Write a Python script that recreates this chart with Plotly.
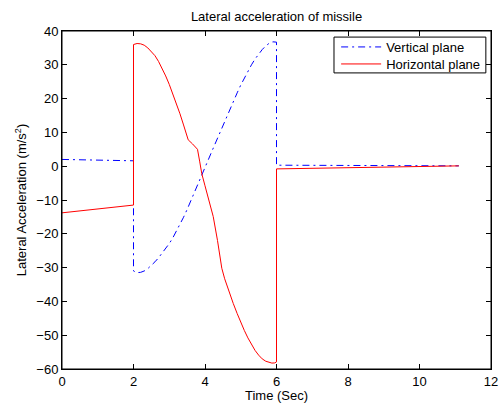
import plotly.graph_objects as go

# Horizontal plane (red, solid)
red_t = [0, 2.0, 2.0, 2.1, 2.2, 2.3, 2.4, 2.5, 2.6, 2.7, 2.8, 2.9, 3.0, 3.1, 3.2, 3.3, 3.4, 3.5, 3.53,
         3.65, 3.79, 3.85, 3.91, 4.0, 4.1, 4.23, 4.35, 4.47, 4.55, 4.65, 4.79, 4.9, 5.0, 5.1, 5.2,
         5.3, 5.4, 5.5, 5.6, 5.7, 5.8, 5.87, 5.95, 6.0, 6.0, 11.1]
red_v = [-13.8, -11.5, 36.0, 36.3, 36.2, 35.8, 35.0, 34.0, 32.7, 31.0, 29.0, 26.7, 24.2, 21.5, 18.6,
         15.5, 12.2, 8.8, 7.8, 6.6, 5.0, 1.5, -2.2, -5.8, -9.8, -14.9, -22.0, -30.2, -33.3, -36.5,
         -40.6, -43.6, -46.2, -48.6, -50.8, -52.8, -54.5, -55.9, -57.0, -57.7, -58.1, -58.25, -58.2,
         -57.9, -0.8, 0.1]

# Vertical plane (blue, dash-dot)
blue_t = [0, 2.0, 2.0, 2.1, 2.2, 2.3, 2.4, 2.5, 2.6, 2.7, 2.8, 2.9, 3.0, 3.1, 3.2, 3.3, 3.4, 3.5,
          3.6, 3.7, 3.8, 3.9, 4.0, 4.1, 4.2, 4.3, 4.4, 4.5, 4.6, 4.7, 4.8, 4.9, 5.0, 5.1, 5.2, 5.3,
          5.4, 5.5, 5.6, 5.7, 5.8, 5.9, 6.0, 6.0, 11.1]
blue_v = [2.0, 1.6, -31.0, -31.5, -31.4, -31.0, -30.3, -29.4, -28.3, -27.1, -25.8, -24.4, -22.9,
          -21.2, -19.3, -17.3, -15.1, -12.8, -10.4, -8.0, -5.5, -2.9, -0.4, 2.1, 4.6, 7.1, 9.6,
          12.0, 14.4, 16.9, 19.3, 21.7, 24.0, 26.1, 28.1, 30.0, 31.7, 33.2, 34.5, 35.6, 36.4, 36.8,
          36.7, 0.3, 0.1]

x_ticks = [0, 2, 4, 6, 8, 10, 12]
y_ticks = [40, 30, 20, 10, 0, -10, -20, -30, -40, -50, -60]

fig = go.Figure()
fig.add_trace(go.Scatter(x=blue_t, y=blue_v, mode="lines", name="Vertical plane", legend="legend",
                         line=dict(color="#0000ff", width=1, dash="7px,4px,2px,4px")))
fig.add_trace(go.Scatter(x=red_t, y=red_v, mode="lines", name="Horizontal plane", legend="legend2",
                         line=dict(color="#ff0000", width=1)))

font_family = "Liberation Sans, Arial, Helvetica, sans-serif"
FS = 13
axis_common = dict(showgrid=False, zeroline=False, showline=True, linecolor="black", linewidth=1,
                   mirror="allticks", ticks="inside", ticklen=5, tickcolor="black", automargin=False,
                   tickfont=dict(size=FS, color="black", family=font_family))
legend_common = dict(x=0.639, xanchor="left", yanchor="middle", bgcolor="rgba(0,0,0,0)",
                     borderwidth=0, font=dict(size=FS, color="black", family=font_family),
                     itemwidth=40)

fig.update_layout(
    width=502, height=403,
    margin=dict(l=62, r=11, t=31, b=34),
    paper_bgcolor="white", plot_bgcolor="white",
    title=dict(text="Lateral acceleration of missile", xref="paper", x=0.5, xanchor="center",
               yref="paper", y=1.0, yanchor="bottom", pad=dict(b=10),
               font=dict(size=FS, color="black", family=font_family)),
    xaxis=dict(range=[0, 12], tickvals=x_ticks, ticktext=[str(v) for v in x_ticks],
               title=dict(text="Time (Sec)", standoff=7, font=dict(size=FS, color="black", family=font_family)),
               **axis_common),
    yaxis=dict(range=[-60, 40], tickvals=y_ticks,
               ticktext=[str(v).replace("-", "\u2212") for v in y_ticks],
               title=dict(text="Lateral Acceleration (m/s<sup>2</sup>)", standoff=6,
                          font=dict(size=FS, color="black", family=font_family)),
               **axis_common),
    legend=dict(y=0.9527, **legend_common),
    legend2=dict(y=0.9024, **legend_common),
    shapes=[
        dict(type="rect", xref="paper", yref="paper", x0=0, x1=1, y0=0, y1=1,
             line=dict(color="black", width=1), fillcolor="rgba(0,0,0,0)", layer="above"),
        dict(type="rect", xref="paper", yref="paper", x0=0.634, x1=0.988, y0=0.876, y1=0.982,
             line=dict(color="black", width=1), fillcolor="white", layer="above"),
    ],
    showlegend=True,
)

# remove the default page margin so the figure fills the window without scrollbars
fig.write_html("out.html",
               config={"displayModeBar": False},
               post_script="document.body.style.margin='0';"
                           "document.body.style.overflow='hidden';"
                           "document.documentElement.style.overflow='hidden';")
